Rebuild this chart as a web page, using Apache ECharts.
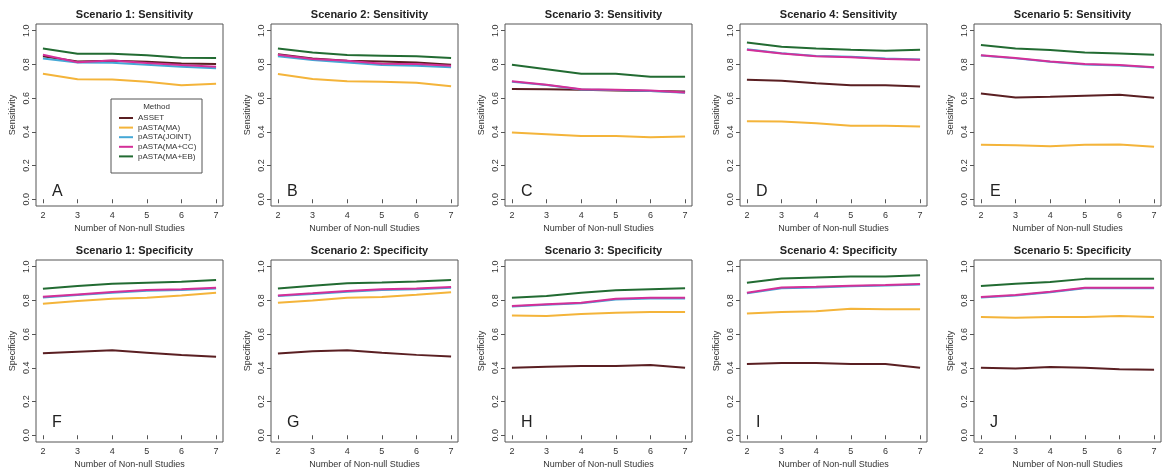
<!DOCTYPE html>
<html>
<head>
<meta charset="utf-8">
<script src="https://cdn.jsdelivr.net/npm/echarts@6/dist/echarts.min.js"></script>
<style>
html,body{margin:0;padding:0;background:#fff;}
#chart{width:1163px;height:474px;}
</style>
</head>
<body>
<div id="chart"></div>
<script>
// ---- Data ----
const xValues = [2, 3, 4, 5, 6, 7];
const methods = ['ASSET', 'pASTA(MA)', 'pASTA(JOINT)', 'pASTA(MA+CC)', 'pASTA(MA+EB)'];
const xTicks = [2, 3, 4, 5, 6, 7];
const yTicks = [0, 0.2, 0.4, 0.6, 0.8, 1.0];
const panelTitles = [
  'Scenario 1: Sensitivity', 'Scenario 2: Sensitivity', 'Scenario 3: Sensitivity', 'Scenario 4: Sensitivity', 'Scenario 5: Sensitivity',
  'Scenario 1: Specificity', 'Scenario 2: Specificity', 'Scenario 3: Specificity', 'Scenario 4: Specificity', 'Scenario 5: Specificity'
];
const panelLetters = ['A', 'B', 'C', 'D', 'E', 'F', 'G', 'H', 'I', 'J'];
const yNames = ['Sensitivity', 'Specificity'];
const xName = 'Number of Non-null Studies';

// each: [ASSET, pASTA(MA), pASTA(JOINT), pASTA(MA+CC), pASTA(MA+EB)]
const sens1 = [
  [0.848, 0.818, 0.822, 0.816, 0.805, 0.803],
  [0.745, 0.712, 0.710, 0.697, 0.677, 0.685],
  [0.835, 0.812, 0.810, 0.798, 0.786, 0.777],
  [0.858, 0.813, 0.824, 0.809, 0.797, 0.786],
  [0.895, 0.864, 0.864, 0.854, 0.840, 0.838]
];
const sens2 = [
  [0.860, 0.836, 0.822, 0.818, 0.812, 0.798],
  [0.743, 0.713, 0.701, 0.697, 0.692, 0.670],
  [0.848, 0.826, 0.812, 0.796, 0.792, 0.783],
  [0.857, 0.832, 0.822, 0.804, 0.802, 0.792],
  [0.895, 0.871, 0.856, 0.852, 0.848, 0.838]
];
const sens3 = [
  [0.655, 0.653, 0.650, 0.645, 0.643, 0.640],
  [0.396, 0.386, 0.376, 0.376, 0.368, 0.372],
  [0.697, 0.678, 0.651, 0.648, 0.643, 0.632],
  [0.700, 0.680, 0.653, 0.650, 0.645, 0.634],
  [0.798, 0.772, 0.745, 0.745, 0.727, 0.727]
];
const sens4 = [
  [0.709, 0.703, 0.689, 0.677, 0.677, 0.669],
  [0.463, 0.461, 0.451, 0.436, 0.436, 0.432],
  [0.890, 0.867, 0.850, 0.845, 0.835, 0.830],
  [0.887, 0.865, 0.848, 0.842, 0.832, 0.828],
  [0.930, 0.905, 0.895, 0.887, 0.881, 0.887]
];
const sens5 = [
  [0.628, 0.604, 0.608, 0.614, 0.620, 0.602],
  [0.323, 0.321, 0.315, 0.323, 0.325, 0.311],
  [0.853, 0.836, 0.816, 0.800, 0.794, 0.782],
  [0.855, 0.838, 0.818, 0.802, 0.796, 0.784],
  [0.915, 0.895, 0.885, 0.871, 0.865, 0.857]
];
const spec1 = [
  [0.486, 0.496, 0.504, 0.490, 0.476, 0.466],
  [0.780, 0.796, 0.810, 0.816, 0.830, 0.846],
  [0.818, 0.832, 0.846, 0.858, 0.862, 0.871],
  [0.822, 0.836, 0.850, 0.862, 0.866, 0.875],
  [0.870, 0.885, 0.899, 0.905, 0.911, 0.921]
];
const spec2 = [
  [0.485, 0.498, 0.505, 0.490, 0.477, 0.467],
  [0.786, 0.800, 0.816, 0.820, 0.834, 0.849],
  [0.826, 0.838, 0.852, 0.862, 0.867, 0.876],
  [0.830, 0.842, 0.856, 0.866, 0.871, 0.880],
  [0.871, 0.887, 0.902, 0.907, 0.913, 0.922]
];
const spec3 = [
  [0.401, 0.407, 0.411, 0.411, 0.417, 0.401],
  [0.711, 0.708, 0.719, 0.727, 0.731, 0.731],
  [0.764, 0.774, 0.784, 0.806, 0.812, 0.812],
  [0.767, 0.777, 0.787, 0.810, 0.816, 0.816],
  [0.816, 0.826, 0.846, 0.860, 0.866, 0.872]
];
const spec4 = [
  [0.423, 0.429, 0.429, 0.423, 0.423, 0.400],
  [0.722, 0.732, 0.736, 0.751, 0.748, 0.748],
  [0.842, 0.873, 0.877, 0.884, 0.888, 0.894],
  [0.845, 0.877, 0.881, 0.887, 0.891, 0.897],
  [0.905, 0.930, 0.936, 0.942, 0.942, 0.950]
];
const spec5 = [
  [0.401, 0.396, 0.405, 0.400, 0.391, 0.389],
  [0.702, 0.698, 0.702, 0.702, 0.708, 0.702],
  [0.817, 0.829, 0.849, 0.872, 0.872, 0.872],
  [0.820, 0.832, 0.852, 0.875, 0.875, 0.875],
  [0.885, 0.899, 0.910, 0.928, 0.928, 0.928]
];
const panels = [sens1, sens2, sens3, sens4, sens5, spec1, spec2, spec3, spec4, spec5];

// ---- Styling / layout ----
const colors = ['#5a1f22', '#f4b43a', '#45a8d6', '#d42f98', '#226b32'];
const FONT = '"Liberation Sans", Arial, Helvetica, sans-serif';
const gridLefts = [36, 271, 505, 740, 974];
const gridTops = [24, 260];
const gridW = 187, gridH = 182;

const grids = [], xAxes = [], yAxes = [], series = [], titles = [], graphics = [];
panels.forEach((panel, p) => {
  const col = p % 5, row = Math.floor(p / 5);
  const left = gridLefts[col], top = gridTops[row];
  grids.push({
    left: left, top: top, width: gridW, height: gridH,
    show: true, borderColor: '#555', borderWidth: 1, backgroundColor: '#fff',
    containLabel: false, outerBoundsMode: 'none'
  });
  xAxes.push({
    type: 'value', gridIndex: p, min: 1.8, max: 7.2,
    name: xName, nameLocation: 'middle', nameGap: 18,
    nameTextStyle: { fontSize: 9, color: '#333', fontFamily: FONT },
    axisLine: { show: false },
    axisTick: { show: true, inside: false, length: 4, customValues: xTicks, lineStyle: { color: '#555' } },
    axisLabel: { show: true, margin: 5, fontSize: 9, color: '#333', fontFamily: FONT, customValues: xTicks, formatter: v => String(v) },
    splitLine: { show: false }
  });
  yAxes.push({
    type: 'value', gridIndex: p, min: -0.04, max: 1.04,
    name: yNames[row], nameLocation: 'middle', nameGap: 19, nameRotate: 90,
    nameTextStyle: { fontSize: 9, color: '#333', fontFamily: FONT },
    axisLine: { show: false },
    axisTick: { show: true, inside: false, length: 4, customValues: yTicks, lineStyle: { color: '#555' } },
    axisLabel: { show: true, margin: 5, rotate: 90, fontSize: 9, color: '#333', fontFamily: FONT, customValues: yTicks, formatter: v => v.toFixed(1) },
    splitLine: { show: false }
  });
  panel.forEach((vals, m) => {
    series.push({
      type: 'line', name: methods[m], xAxisIndex: p, yAxisIndex: p,
      data: xValues.map((x, i) => [x, vals[i]]),
      symbol: 'none', showSymbol: false, smooth: false, z: 2 + m,
      lineStyle: { width: 2, color: colors[m] },
      itemStyle: { color: colors[m] },
      emphasis: { disabled: true }
    });
  });
  titles.push({
    text: panelTitles[p], left: left + gridW / 2, top: top - 20, textAlign: 'center',
    textStyle: { fontSize: 11, fontWeight: 'bold', color: '#222', fontFamily: FONT }
  });
  graphics.push({
    type: 'text', left: left + 16, top: top + (row === 0 ? 160 : 155),
    style: { text: panelLetters[p], fontSize: 16, fill: '#222', fontFamily: FONT }
  });
});

// legend box + title in panel A
graphics.push({
  type: 'rect', shape: { x: 111, y: 99, width: 91, height: 74 },
  style: { fill: '#fff', stroke: '#555', lineWidth: 1 }, z: 10
});
graphics.push({
  type: 'text', x: 156.5, y: 107, z: 11,
  style: { text: 'Method', fontSize: 8, fill: '#333', align: 'center', verticalAlign: 'middle', fontFamily: FONT }
});

const option = {
  animation: false,
  backgroundColor: '#fff',
  title: titles,
  grid: grids,
  xAxis: xAxes,
  yAxis: yAxes,
  series: series,
  legend: {
    data: methods, orient: 'vertical', left: 119, top: 114, padding: 0,
    icon: 'rect', itemWidth: 14, itemHeight: 2, itemGap: 1.6, selectedMode: false, z: 12,
    textStyle: { fontSize: 8, color: '#333', fontFamily: FONT }
  },
  graphic: graphics,
  tooltip: { show: false }
};

const chart = echarts.init(document.getElementById('chart'), null, { renderer: 'canvas' });
chart.setOption(option);
</script>
</body>
</html>
